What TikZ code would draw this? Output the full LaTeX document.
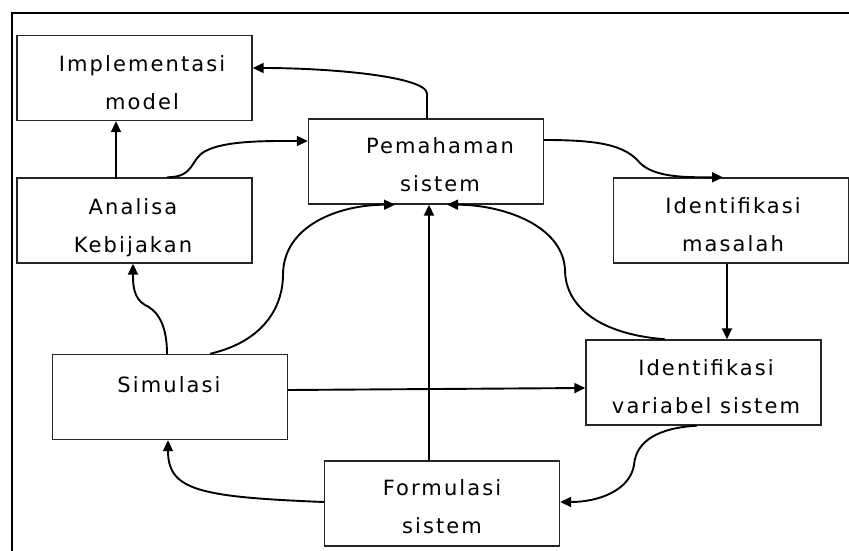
\documentclass[tikz,border=0pt]{standalone}
\usepackage{fontspec}
\setmainfont[LetterSpace=10]{DejaVu Sans}
\usetikzlibrary{arrows.meta}
\begin{document}
\begin{tikzpicture}[x=1bp,y=-1bp,
  box/.style={draw=black!85,line width=1.4bp,minimum width=235bp,minimum height=85bp,inner sep=0pt},
  txt/.style={anchor=base,align=center,inner sep=0pt,font=\fontsize{21bp}{38bp}\selectfont},
  conn/.style={line width=1.9bp,-{Triangle[length=11bp,width=10bp]}},
  frameline/.style={line width=2.2bp}]
\useasboundingbox (0,0) rectangle (849,551);
\coordinate (ftop) at (849,13);
\coordinate (fcorner) at (12,13);
\coordinate (fbot) at (12,551);
\draw[frameline] (ftop) -- (fcorner) -- (fbot);
% boxes
\node[box] (impl) at (134.5,78) {};
\node[box] (anal) at (134.5,220.5) {};
\node[box] (pem)  at (426,161.5) {};
\node[box] (idm)  at (731,220.5) {};
\node[box] (sim)  at (170,397) {};
\node[box] (idv)  at (703.5,382.5) {};
\node[box] (form) at (442,503.5) {};
% texts (anchor at baseline of last line)
\node[txt] (timpl) at (142,110) {Implementasi\\model};
\node[txt] (tanal) at (133,253) {Analisa\\Kebijakan};
\node[txt] (tpem)  at (440,192) {Pemahaman\\sistem};
\node[txt] (tidm)  at (733,252) {Identifikasi\\masalah};
\node[txt] (tsim)  at (169,392) {Simulasi};
\node[txt] (tidv)  at (706,413) {Identifikasi\\variabel sistem};
\node[txt] (tform) at (442,533) {Formulasi\\sistem};
% connectors
\draw[conn] ([xshift=1bp]pem.north) -- ++(0,-25) .. controls +(-2,-17) and (330,68) .. (impl.east |- 0,68);
\draw[conn] (impl.south -| 116,0) ++(0,58) -- (impl.south -| 116,0);
\draw[conn] ([xshift=32.5bp]anal.north) .. controls +(28,0) and +(-15,8) .. ++(38,-26) .. controls +(20,-11) and +(-40,0) .. (pem.west |- 0,141);
\draw[conn] (pem.east |- 0,140) .. controls +(55,0) and +(-15,-18) .. (640,163) .. controls +(15,15) and +(-35,0) .. (idm.north -| 723,0);
\draw[conn] (idm.south -| 727,0) -- (idv.north -| 727,0);
\draw[conn] (idv.north -| 665,0) .. controls +(-75,-6) and +(0,30) .. (565,270) .. controls +(-2,-45) and +(55,0) .. (pem.south -| 447,0);
\draw[conn] (sim.north -| 210,0) .. controls +(60,-14) and +(0,25) .. (283,275) .. controls +(0,-50) and +(-55,0) .. (pem.south -| 395,0);
\draw[conn] (sim.north -| 167,0) .. controls +(0,-34) and +(9,4) .. (145,305) .. controls +(-12,-7) and +(0,20) .. (anal.south -| 133,0);
\draw[conn] (sim.east |- 0,390) -- (idv.west |- 0,388);
\draw[conn] (form.north -| 429,0) -- (pem.south -| 429,0);
\draw[conn] (idv.south -| 697,0) .. controls +(-37,2) and +(2,-25) .. (634,465) .. controls +(-4,25) and +(39,0) .. (form.east |- 0,502);
\draw[conn] (form.west |- 0,502) .. controls +(-125,-5) and +(0,50) .. (sim.south -| 168,0);
\end{tikzpicture}
\end{document}
